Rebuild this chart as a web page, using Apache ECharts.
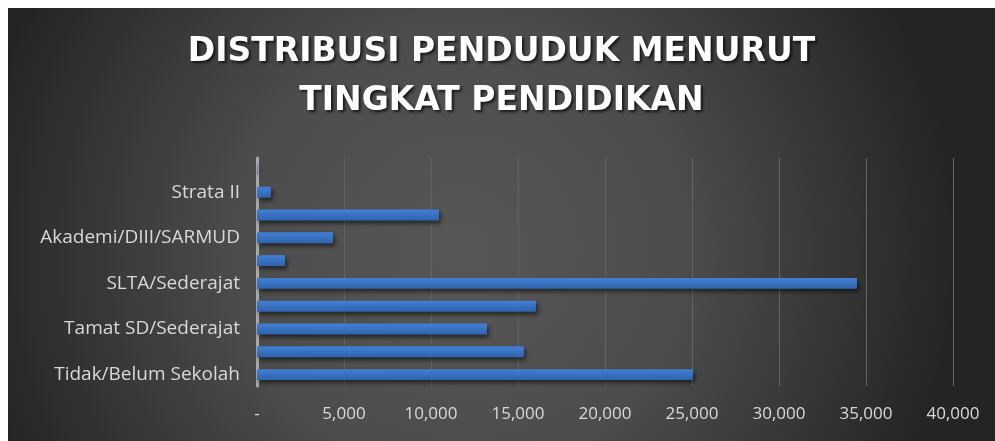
<!DOCTYPE html>
<html>
<head>
<meta charset="utf-8">
<script src="https://cdn.jsdelivr.net/npm/echarts@6/dist/echarts.min.js"></script>
<style>
  html, body { margin: 0; padding: 0; background: #ffffff; }
  #chart { position: absolute; left: 8px; top: 8px; width: 987px; height: 433px; }
</style>
</head>
<body>
<div id="chart"></div>
<script>
  // bottom to top, as in the source chart
  const categories = [
    'Tidak/Belum Sekolah',
    'Belum Tamat SD/Sederajat',
    'Tamat SD/Sederajat',
    'SLTP/Sederajat',
    'SLTA/Sederajat',
    'Diploma I/II',
    'Akademi/DIII/SARMUD',
    'Diploma IV/Strata I',
    'Strata II',
    'Strata III',
  ];
  const population = [25060, 15340, 13220, 16030, 34480, 1610, 4370, 10460, 800, 40];
  const titleLines = ['DISTRIBUSI PENDUDUK MENURUT', 'TINGKAT PENDIDIKAN'];

  const numberFormatter = new Intl.NumberFormat('en-US');
  const chart = echarts.init(document.getElementById('chart'));

  chart.setOption({
    animation: false,
    backgroundColor: {
      type: 'radial',
      x: 0.46,
      y: 0.56,
      r: 1.15,
      colorStops: [
        { offset: 0, color: '#575757' },
        { offset: 0.45, color: '#4c4c4c' },
        { offset: 1, color: '#242424' },
      ],
    },
    title: {
      text: titleLines.join('\n'),
      left: 'center',
      top: 15,
      textStyle: {
        color: '#ffffff',
        fontFamily: 'DejaVu Sans',
        fontWeight: 'bold',
        fontSize: 33,
        lineHeight: 49,
        textShadowColor: 'rgba(0,0,0,0.7)',
        textShadowBlur: 3,
        textShadowOffsetX: 2,
        textShadowOffsetY: 2,
      },
    },
    grid: {
      left: 249,
      right: 42,
      top: 150,
      bottom: 55,
      containLabel: false,
    },
    xAxis: {
      type: 'value',
      min: 0,
      max: 40000,
      interval: 5000,
      axisLine: { show: false },
      axisTick: { show: false },
      axisLabel: {
        color: '#d9d9d9',
        fontFamily: 'Open Sans',
        fontSize: 17,
        margin: 20,
        formatter: (value) => (value === 0 ? '-' : numberFormatter.format(value)),
      },
      splitLine: {
        lineStyle: { color: '#636363', width: 1 },
      },
    },
    yAxis: {
      type: 'category',
      data: categories,
      axisTick: { show: false },
      axisLine: {
        lineStyle: { color: '#a9a9a9', width: 3 },
      },
      axisLabel: {
        interval: 1,
        color: '#d9d9d9',
        fontFamily: 'Open Sans',
        fontSize: 19,
        margin: 17,
      },
    },
    series: [
      {
        type: 'bar',
        name: 'Jumlah',
        data: population,
        barCategoryGap: '52%',
        itemStyle: {
          color: {
            type: 'linear',
            x: 0, y: 0, x2: 0, y2: 1,
            colorStops: [
              { offset: 0, color: '#4280d6' },
              { offset: 1, color: '#2f63ad' },
            ],
          },
          shadowColor: 'rgba(0,0,0,0.55)',
          shadowBlur: 4,
          shadowOffsetX: 2,
          shadowOffsetY: 3,
        },
      },
    ],
  });

  window.addEventListener('resize', () => {
    chart.resize();
  });
</script>
</body>
</html>
